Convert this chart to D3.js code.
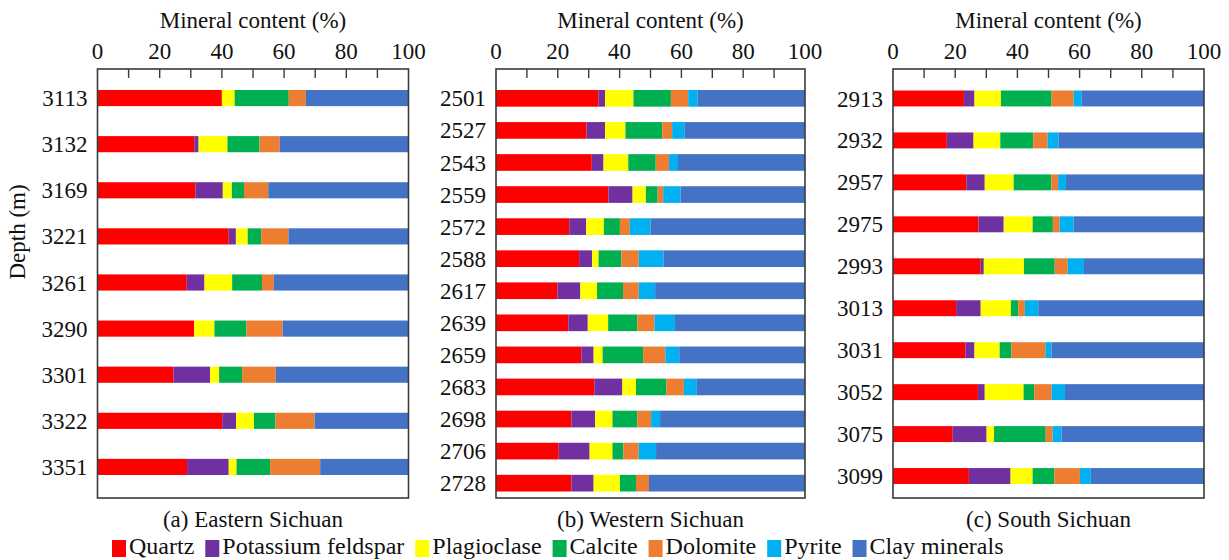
<!DOCTYPE html>
<html>
<head>
<meta charset="utf-8">
<script src="https://cdn.jsdelivr.net/npm/d3@7/dist/d3.min.js"></script>
<style>
  html, body { margin: 0; padding: 0; background: #fff; }
  svg { display: block; }
  text { font-family: "Liberation Serif", "Times New Roman", serif; fill: #111; }
</style>
</head>
<body>
<svg id="chart" width="1229" height="560"></svg>
<script>
// Mineral classes (stack order, left to right)
const minerals = ["Quartz", "Potassium feldspar", "Plagioclase", "Calcite", "Dolomite", "Pyrite", "Clay minerals"];
const mineralColors = ["#FF0000", "#7030A0", "#FFFF00", "#00B050", "#ED7D31", "#00B0F0", "#4472C4"];
const xTicks = [0, 20, 40, 60, 80, 100];

// (a) Eastern Sichuan — depth (m) and content (%) per mineral
const eastDepths = ["3113", "3132", "3169", "3221", "3261", "3290", "3301", "3322", "3351"];
const eastContent = [
  [40.0, 0.0, 4.1, 17.4, 5.5, 0.0, 33.0],
  [31.1, 1.4, 9.3, 10.3, 6.5, 0.0, 41.4],
  [31.5, 8.8, 2.9, 3.9, 7.8, 0.0, 45.1],
  [42.2, 2.3, 3.8, 4.3, 8.8, 0.0, 38.6],
  [28.7, 5.7, 8.9, 9.6, 3.8, 0.0, 43.3],
  [31.1, 0.0, 6.5, 10.3, 11.6, 0.0, 40.5],
  [24.4, 11.8, 2.9, 7.4, 10.8, 0.0, 42.7],
  [40.1, 4.5, 5.7, 6.9, 12.6, 0.0, 30.2],
  [28.8, 13.4, 2.5, 10.8, 16.1, 0.0, 28.4]
];

// (b) Western Sichuan
const westDepths = ["2501", "2527", "2543", "2559", "2572", "2588", "2617", "2639", "2659", "2683", "2698", "2706", "2728"];
const westContent = [
  [33.2, 2.1, 9.2, 12.1, 5.6, 3.1, 34.7],
  [29.3, 6.0, 6.6, 11.9, 3.2, 4.1, 38.9],
  [31.0, 3.8, 8.0, 8.9, 4.3, 2.9, 41.1],
  [36.4, 7.8, 4.3, 3.8, 1.8, 5.6, 40.3],
  [23.7, 5.5, 5.7, 5.2, 3.2, 6.7, 50.0],
  [26.9, 4.2, 2.1, 7.4, 5.6, 8.0, 45.8],
  [19.9, 7.4, 5.4, 8.4, 5.1, 5.3, 48.5],
  [23.4, 6.3, 6.6, 9.4, 5.6, 6.6, 42.1],
  [27.6, 4.0, 2.9, 13.1, 7.2, 4.5, 40.7],
  [31.8, 9.1, 4.4, 9.8, 5.7, 4.2, 35.0],
  [24.4, 7.7, 5.6, 8.0, 4.5, 2.9, 46.9],
  [20.3, 10.0, 7.4, 3.5, 5.0, 5.6, 48.2],
  [24.4, 7.2, 8.5, 5.2, 4.2, 0.0, 50.5]
];

// (c) South Sichuan
const southDepths = ["2913", "2932", "2957", "2975", "2993", "3013", "3031", "3052", "3075", "3099"];
const southContent = [
  [22.8, 3.4, 8.5, 16.3, 7.1, 2.6, 39.3],
  [17.3, 8.6, 8.6, 10.6, 4.6, 3.5, 46.8],
  [23.6, 5.9, 9.3, 12.1, 2.2, 2.5, 44.4],
  [27.5, 8.1, 9.3, 6.5, 2.2, 4.5, 41.9],
  [28.2, 1.0, 12.9, 9.9, 4.2, 5.2, 38.6],
  [20.3, 7.9, 9.7, 2.4, 2.1, 4.3, 53.3],
  [23.3, 2.9, 8.1, 3.7, 11.0, 2.0, 49.0],
  [27.3, 2.2, 12.5, 3.4, 5.6, 4.3, 44.7],
  [19.2, 10.9, 2.4, 16.6, 2.2, 2.9, 45.8],
  [24.4, 13.4, 7.1, 7.0, 8.2, 3.5, 36.4]
];

const captions = ["(a) Eastern Sichuan", "(b) Western Sichuan", "(c) South Sichuan"];

const svg = d3.select("#chart");
const FONT = 23;
const LEGEND_FONT = 24;
const frameTop = 69, frameBottom = 498;

const panels = [
  { depths: eastDepths, content: eastContent, x0: 97.5, x1: 408.5, y0: 90, y1: 475, pad: 0.65 },
  { depths: westDepths, content: westContent, x0: 496, x1: 805, y0: 90, y1: 491.5, pad: 0.48 },
  { depths: southDepths, content: southContent, x0: 893, x1: 1204, y0: 90.5, y1: 484, pad: 0.62 }
];

panels.forEach((p, pi) => {
  const rows = p.depths.map((d, i) => {
    const r = { depth: d };
    minerals.forEach((m, j) => { r[m] = p.content[i][j]; });
    return r;
  });
  const series = d3.stack().keys(minerals)(rows);

  const x = d3.scaleLinear().domain([0, 100]).range([p.x0, p.x1]);
  const y = d3.scaleBand().domain(p.depths).range([p.y0, p.y1]).paddingInner(p.pad).paddingOuter(0);

  const g = svg.append("g");

  // stacked bars
  g.selectAll("g.layer")
    .data(series)
    .join("g")
    .attr("class", "layer")
    .attr("fill", (s, i) => mineralColors[i])
    .selectAll("rect")
    .data(s => s)
    .join("rect")
    .attr("x", d => x(d[0]))
    .attr("width", d => Math.max(0, x(d[1]) - x(d[0])))
    .attr("y", d => y(d.data.depth))
    .attr("height", y.bandwidth());

  // frame
  g.append("rect")
    .attr("x", p.x0).attr("y", frameTop)
    .attr("width", p.x1 - p.x0).attr("height", frameBottom - frameTop)
    .attr("fill", "none").attr("stroke", "#3a3a3a").attr("stroke-width", 1.6);

  // inner tick marks along the top edge
  g.selectAll("line.tick")
    .data(d3.range(10, 100, 10))
    .join("line")
    .attr("x1", d => x(d)).attr("x2", d => x(d))
    .attr("y1", frameTop).attr("y2", frameTop + 9)
    .attr("stroke", "#3a3a3a").attr("stroke-width", 1.4);

  // top axis labels
  g.selectAll("text.xt")
    .data(xTicks)
    .join("text")
    .attr("x", d => x(d)).attr("y", 59)
    .attr("text-anchor", "middle")
    .style("font-size", FONT + "px")
    .text(d => d);

  g.append("text")
    .attr("x", (p.x0 + p.x1) / 2).attr("y", 28)
    .attr("text-anchor", "middle")
    .style("font-size", FONT + "px")
    .text("Mineral content (%)");

  // depth labels
  g.selectAll("text.yt")
    .data(p.depths)
    .join("text")
    .attr("x", p.x0 - 10)
    .attr("y", d => y(d) + y.bandwidth() / 2)
    .attr("dy", "0.35em")
    .attr("text-anchor", "end")
    .style("font-size", FONT + "px")
    .text(d => d);

  // panel caption
  g.append("text")
    .attr("x", (p.x0 + p.x1) / 2).attr("y", 527)
    .attr("text-anchor", "middle")
    .style("font-size", FONT + "px")
    .text(captions[pi]);
});

// y axis title
svg.append("text")
  .attr("transform", "translate(25,232) rotate(-90)")
  .attr("text-anchor", "middle")
  .style("font-size", FONT + "px")
  .text("Depth (m)");

// legend
const legend = svg.append("g");
let lx = 112;
minerals.forEach((m, i) => {
  legend.append("rect")
    .attr("x", lx).attr("y", 540).attr("width", 14).attr("height", 17)
    .attr("fill", mineralColors[i]);
  const t = legend.append("text")
    .attr("x", lx + 17).attr("y", 554)
    .style("font-size", LEGEND_FONT + "px")
    .text(m);
  lx += 17 + t.node().getComputedTextLength() + 11;
});
</script>
</body>
</html>
